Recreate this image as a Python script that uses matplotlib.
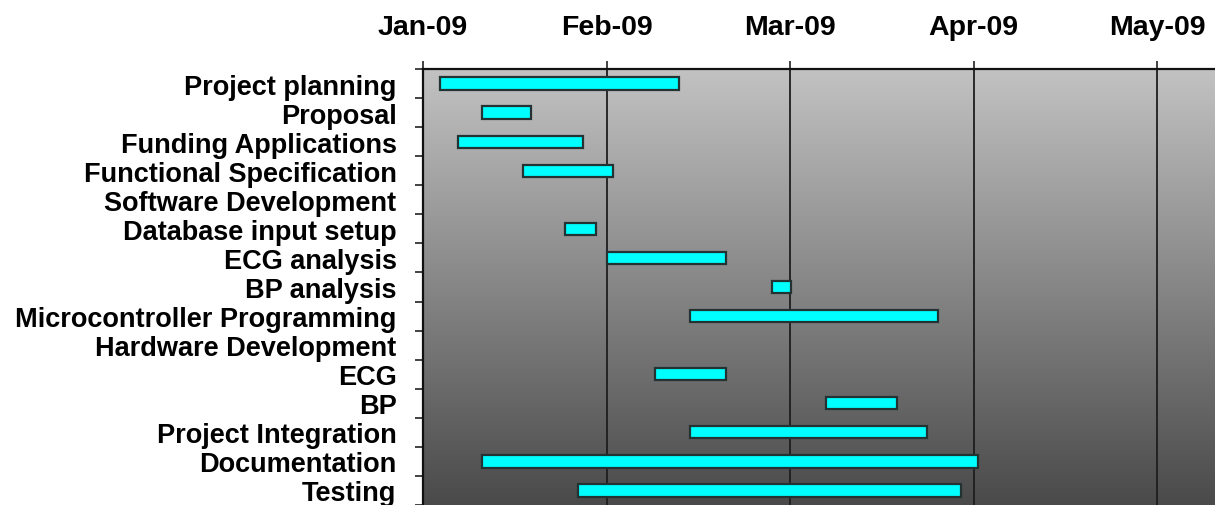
import matplotlib.pyplot as plt
import matplotlib
import numpy as np

matplotlib.rcParams["font.family"] = ["Liberation Sans", "DejaVu Sans"]
matplotlib.rcParams["font.weight"] = "bold"

# tasks, top to bottom
tasks = ['Project planning', 'Proposal', 'Funding Applications',
         'Functional Specification', 'Software Development',
         'Database input setup', 'ECG analysis', 'BP analysis',
         'Microcontroller Programming', 'Hardware Development', 'ECG', 'BP',
         'Project Integration', 'Documentation', 'Testing']

# start / end in months after 1 Jan 2009 (None = heading row, no bar)
start = [0.09, 0.32, 0.19, 0.545, None, 0.775, 1.0, 1.9,
         1.455, None, 1.262, 2.196, 1.455, 0.322, 0.845]
end = [1.395, 0.59, 0.87, 1.035, None, 0.943, 1.651, 2.005,
       2.807, None, 1.651, 2.583, 2.747, 3.025, 2.932]

months = ['Jan-09', 'Feb-09', 'Mar-09', 'Apr-09', 'May-09']

fig = plt.figure(figsize=(12.15, 5.06), dpi=100)
ax = fig.add_axes([423/1215, 0.0, 1 - 423/1215, 436/506])

n = len(tasks)
ax.set_xlim(0, 4.316)
ax.set_ylim(n, 0)

# grey gradient background
grad = np.linspace(0, 1, 256).reshape(-1, 1)
cmap = matplotlib.colors.LinearSegmentedColormap.from_list(
    'bg', ['#c2c2c2', '#4a4a4a'])
ax.imshow(grad, aspect='auto', cmap=cmap, extent=[0, 4.316, n, 0],
          zorder=0)

for i in range(len(months)):
    ax.axvline(i, color='#1e1e1e', lw=1.3, zorder=1)

for i, (s, e) in enumerate(zip(start, end)):
    if s is None:
        continue
    ax.barh(i + 0.5, e - s, left=s, height=0.42, color='#00ffff',
            edgecolor='#233333', linewidth=1.6, zorder=2)

ax.xaxis.tick_top()
ax.set_xticks(range(len(months)))
ax.set_xticklabels(months, fontsize=20.5, fontweight='bold')
ax.tick_params(axis='x', length=6, width=1.2, color='#222222', pad=15)

ax.set_yticks(range(n + 1))
ax.set_yticklabels([])
ax.set_yticks(np.arange(n) + 0.5, minor=True)
ax.set_yticklabels(tasks, minor=True, fontsize=19.5, fontweight='bold')
ax.tick_params(axis='y', which='major', length=6, width=1.2,
               color='#222222')
ax.tick_params(axis='y', which='minor', length=0, pad=19)

for side in ['top', 'left']:
    ax.spines[side].set_linewidth(1.6)
    ax.spines[side].set_color('#111111')
ax.spines['right'].set_visible(False)
ax.spines['bottom'].set_visible(False)

fig.savefig('out.png', dpi=100)
